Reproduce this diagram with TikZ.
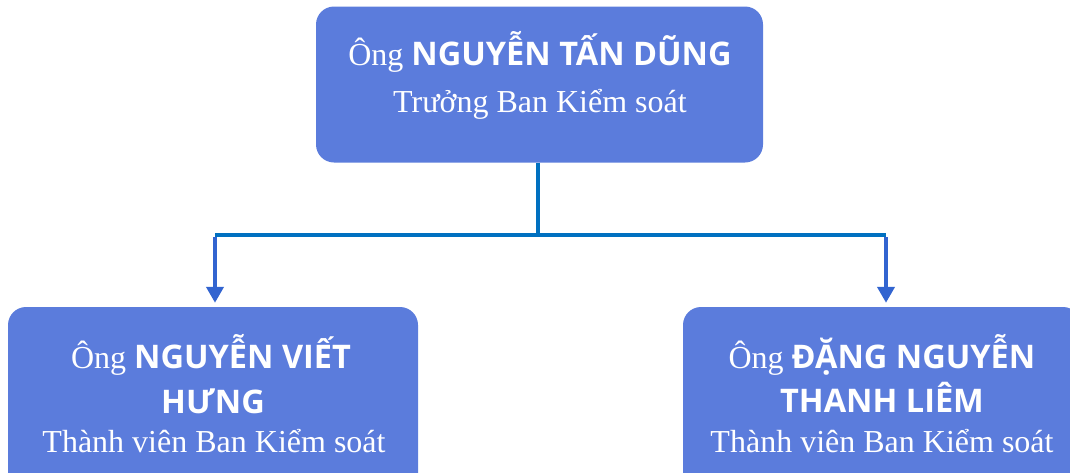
\documentclass[tikz,border=0pt]{standalone}
\usepackage{fontspec}
\setmainfont{Liberation Serif}
\newfontfamily\namefont{Open Sans}
\usetikzlibrary{arrows.meta}
\definecolor{boxblue}{RGB}{91,124,220}
\definecolor{trunkblue}{RGB}{0,112,192}
\definecolor{arrowblue}{RGB}{50,100,208}
\tikzset{
  orgbox/.style={draw=none,fill=boxblue,rounded corners=18pt,inner sep=0pt},
  serif/.style={text=white,font=\fontsize{32}{36}\selectfont,inner sep=0pt,anchor=base},
  trunk/.style={draw=trunkblue,line width=4.5pt},
  arr/.style={draw=arrowblue,line width=4.5pt,-{Triangle[width=17pt,length=16pt]},shorten >=4pt}
}
\newcommand{\nm}[1]{{\namefont\bfseries\fontsize{32.5}{36}\selectfont #1}}
\begin{document}
\begin{tikzpicture}[x=1pt,y=-1pt]
\useasboundingbox (0,0) rectangle (1070,472);
\clip (0,0) rectangle (1070,472);
% boxes
\node[orgbox,minimum width=447pt,minimum height=156pt] (top) at (539.5,84.5) {};
\node[orgbox,minimum width=410pt,minimum height=190pt] (left) at (213,402) {};
\node[orgbox,minimum width=398pt,minimum height=190pt] (right) at (882,402) {};
% texts
\node[serif] (t1) at (540,65) {Ông \nm{NGUYỄN TẤN DŨNG}};
\node[serif] (t2) at (540,112) {Trưởng Ban Kiểm soát};
\node[serif] (l1) at (211,368) {Ông \nm{NGUYỄN VIẾT}};
\node[serif] (l2) at (213,413) {\nm{HƯNG}};
\node[serif] (l3) at (214,452) {Thành viên Ban Kiểm soát};
\node[serif] (r1) at (882,368) {Ông \nm{ĐẶNG NGUYỄN}};
\node[serif] (r2) at (882,412) {\nm{THANH LIÊM}};
\node[serif] (r3) at (882,452) {Thành viên Ban Kiểm soát};
% connectors
\coordinate (j) at (538,235);
\coordinate (jl) at (215,235);
\coordinate (jr) at (886,235);
\draw[trunk] (top.south -| j) -- (j);
\draw[trunk] (jl) -- (jr);
\draw[arr] ([yshift=-2pt]jl) -- (jl |- left.north);
\draw[arr] ([yshift=-2pt]jr) -- (jr |- right.north);
\end{tikzpicture}
\end{document}
